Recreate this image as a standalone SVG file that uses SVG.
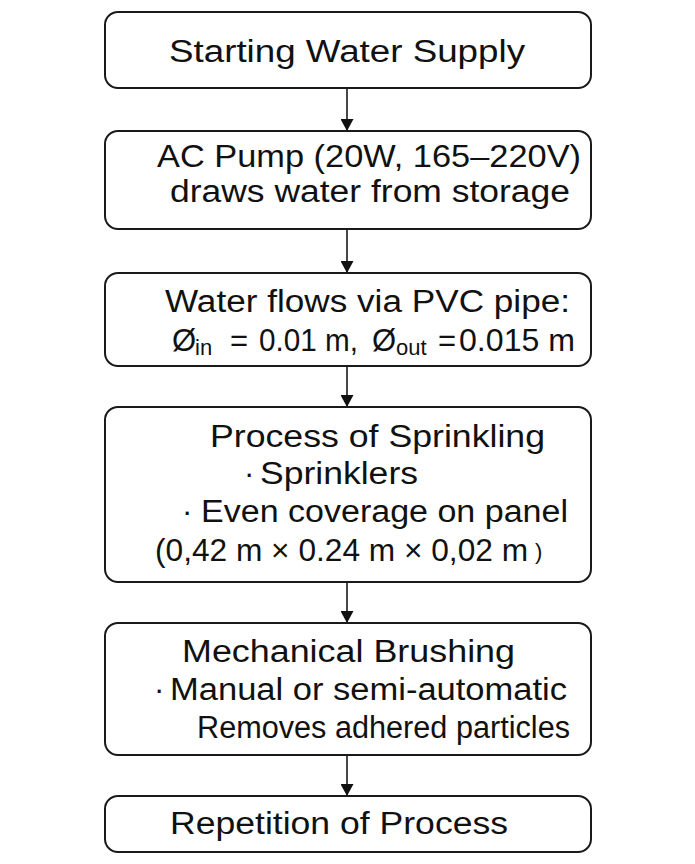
<svg xmlns="http://www.w3.org/2000/svg" width="695" height="864" viewBox="0 0 695 864">
<defs>
<style>
.box{fill:#fff;stroke:#1a1a1a;stroke-width:2}
.t{font-family:"Liberation Sans",Arial,sans-serif;font-size:31px;fill:#111}
.s{font-size:22px}
.c{stroke:#1a1a1a;stroke-width:1.6;fill:none}
</style>
<marker id="ad" markerWidth="13" markerHeight="12" refX="6.5" refY="12" orient="0" markerUnits="userSpaceOnUse" viewBox="0 0 13 12">
<path d="M0,0 L13,0 L6.5,12 Z" fill="#111"/>
</marker>
</defs>
<rect width="695" height="864" fill="#fff"/>
<g id="connectors">
<line class="c" x1="347" y1="88" x2="347" y2="131" marker-end="url(#ad)"/>
<line class="c" x1="347" y1="229" x2="347" y2="273" marker-end="url(#ad)"/>
<line class="c" x1="347" y1="366" x2="347" y2="407" marker-end="url(#ad)"/>
<line class="c" x1="347" y1="582" x2="347" y2="623" marker-end="url(#ad)"/>
<line class="c" x1="347" y1="755" x2="347" y2="796" marker-end="url(#ad)"/>
</g>
<g id="n1">
<rect class="box" x="105" y="12" width="486" height="76" rx="13"/>
<text class="t" x="169" y="62" font-size="33" textLength="356" lengthAdjust="spacingAndGlyphs">Starting Water Supply</text>
</g>
<g id="n2">
<rect class="box" x="105" y="131" width="486" height="98" rx="13"/>
<text class="t" x="157" y="167" textLength="424" lengthAdjust="spacingAndGlyphs">AC Pump (20W, 165–220V)</text>
<text class="t" x="170" y="202" textLength="400" lengthAdjust="spacingAndGlyphs">draws water from storage</text>
</g>
<g id="n3">
<rect class="box" x="105" y="273" width="486" height="93" rx="13"/>
<text class="t" x="165" y="312" textLength="405" lengthAdjust="spacingAndGlyphs">Water flows via PVC pipe:</text>
<text class="t" y="351"><tspan x="172">Ø</tspan><tspan class="s" x="195" dy="4">in</tspan><tspan x="230" dy="-4">=</tspan><tspan x="259" textLength="99" lengthAdjust="spacingAndGlyphs">0.01 m,</tspan><tspan x="372">Ø</tspan><tspan class="s" x="396" dy="4">out</tspan><tspan x="438" dy="-4">=</tspan><tspan x="459" textLength="116" lengthAdjust="spacingAndGlyphs">0.015 m</tspan></text>
</g>
<g id="n4">
<rect class="box" x="105" y="407" width="486" height="175" rx="13"/>
<text class="t" x="210" y="447" textLength="335" lengthAdjust="spacingAndGlyphs">Process of Sprinkling</text>
<text class="t" y="484"><tspan x="244">·</tspan><tspan x="260" textLength="158" lengthAdjust="spacingAndGlyphs">Sprinklers</tspan></text>
<text class="t" y="522"><tspan x="182">·</tspan><tspan x="201" textLength="367" lengthAdjust="spacingAndGlyphs">Even coverage on panel</tspan></text>
<text class="t" y="561"><tspan x="155" textLength="373" lengthAdjust="spacingAndGlyphs">(0,42 m × 0.24 m × 0,02 m</tspan><tspan class="s" x="535" dy="-2">)</tspan></text>
</g>
<g id="n5">
<rect class="box" x="105" y="623" width="486" height="132" rx="13"/>
<text class="t" x="182" y="662" textLength="333" lengthAdjust="spacingAndGlyphs">Mechanical Brushing</text>
<text class="t" y="700"><tspan x="154">·</tspan><tspan x="170" textLength="397" lengthAdjust="spacingAndGlyphs">Manual or semi-automatic</tspan></text>
<text class="t" x="197" y="738" font-size="29" textLength="373" lengthAdjust="spacingAndGlyphs">Removes adhered particles</text>
</g>
<g id="n6">
<rect class="box" x="105" y="796" width="486" height="56" rx="13"/>
<text class="t" x="170" y="834" textLength="338" lengthAdjust="spacingAndGlyphs">Repetition of Process</text>
</g>
</svg>
